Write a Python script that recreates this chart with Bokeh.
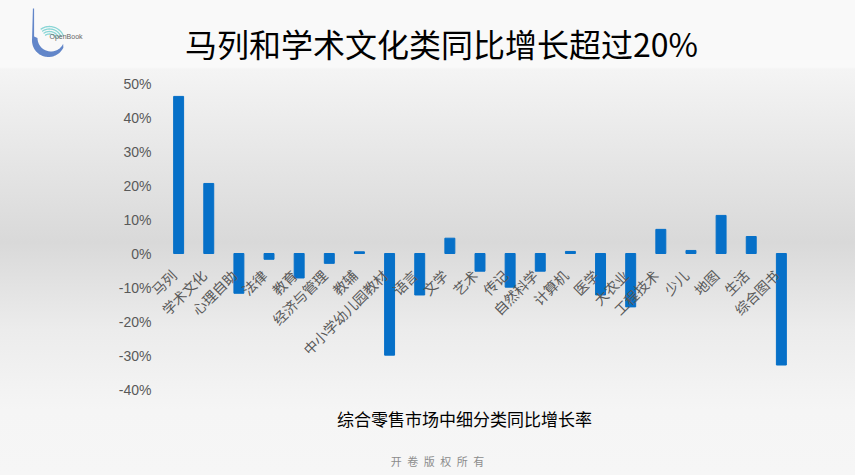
import numpy as np
from math import pi
from bokeh.plotting import figure
from bokeh.layouts import column
from bokeh.models import (ColumnDataSource, FactorRange, Range1d, LabelSet, Label,
                          NumeralTickFormatter, FixedTicker)
from bokeh.core.properties import value
from bokeh.embed import file_html
from bokeh.resources import INLINE

# ---------------- data ----------------
categories = ["马列", "学术文化", "心理自助", "法律", "教育", "经济与管理", "教辅",
              "中小学幼儿园教材", "语言", "文学", "艺术", "传记", "自然科学", "计算机",
              "医学", "大农业", "工程技术", "少儿", "地图", "生活", "综合图书"]
growth = [0.462, 0.206, -0.117, -0.017, -0.072, -0.029, 0.005,
          -0.299, -0.122, 0.045, -0.052, -0.099, -0.052, 0.006,
          -0.122, -0.157, 0.071, 0.009, 0.112, 0.050, -0.328]
y_ticks = [-0.4, -0.3, -0.2, -0.1, 0.0, 0.1, 0.2, 0.3, 0.4, 0.5]
title_text = "马列和学术文化类同比增长超过20%"
x_title = "综合零售市场中细分类同比增长率"
footer_text = "开 卷 版 权 所 有"
logo_text = "OpenBook"

CJK = "Noto Sans CJK SC"
W = 855
HEAD_H, MAIN_H, FOOT_H = 70, 330, 75


def blank(h):
    f = figure(width=W, height=h, x_range=Range1d(0, W), y_range=Range1d(h, 0),
               x_axis_type=None, y_axis_type=None, output_backend="svg",
               toolbar_location=None, min_border=0, frame_align=False)
    f.background_fill_color = None
    f.border_fill_color = None
    f.outline_line_color = None
    f.grid.visible = False
    return f


# ---------------- header ----------------
head = blank(HEAD_H)
head.add_layout(Label(x=441, y=42, text=title_text, text_align="center", text_baseline="middle",
                      text_font=CJK, text_font_size="32px", text_color="#000000"))
# logo (decoration): stem + crescent bowl + teal arcs
th = np.linspace(pi, 2 * pi - 0.45, 48)
ox, oy, orad = 48.0, 40.0, 16.5
ix, iy, irad = 50.5, 37.5, 13.5
lx = [32.4, 31.5] + list(ox + orad * np.cos(th)) + list(ix + irad * np.cos(th[::-1])) + [37.0, 33.6, 33.6]
ly = [8.0, 40.0] + list(oy - orad * np.sin(th)) + list(iy - irad * np.sin(th[::-1])) + [37.5, 36.0, 8.0]
head.patch(lx, ly, fill_color="#5a80c6", fill_alpha=0.95, line_color=None)
for rr in [7.5, 10.0, 12.5, 15.0]:
    tt = np.linspace(0.35, 2.2, 30)
    head.line(49 + rr * np.cos(tt), 41 - rr * np.sin(tt), line_color="#8ad6d6", line_width=1.3)
head.add_layout(Label(x=49, y=36, text=logo_text, text_align="left", text_baseline="middle",
                      text_font="Liberation Sans", text_font_size="7px", text_color="#666666"))

# ---------------- main chart ----------------
L, R, T, B = 140, 36, 13, 11
p = figure(width=W, height=MAIN_H,
           x_range=FactorRange(*categories, range_padding=0.765, range_padding_units="absolute"),
           y_range=Range1d(-0.4, 0.5),
           output_backend="svg", toolbar_location=None, frame_align=False,
           min_border_left=L, min_border_right=R,
           min_border_top=T, min_border_bottom=B)
p.background_fill_color = None
p.border_fill_color = None
p.outline_line_color = None
p.xgrid.visible = False
p.ygrid.visible = False
p.xaxis.visible = False

yax = p.yaxis[0]
yax.ticker = FixedTicker(ticks=y_ticks)
yax.formatter = NumeralTickFormatter(format="0%")
yax.axis_line_color = None
yax.major_tick_line_color = None
yax.minor_tick_line_color = None
yax.major_label_standoff = -17
yax.major_label_text_font = "Liberation Sans"
yax.major_label_text_font_size = "14px"
yax.major_label_text_color = "#595959"

src = ColumnDataSource(dict(cat=categories, val=growth, zero=[0.0] * len(categories)))
p.vbar(x="cat", top="val", bottom=0, width=0.33, color="#0670C8", source=src)

p.add_layout(LabelSet(x="cat", y="zero", text="cat", source=src,
                      angle=pi / 4, text_align="right", text_baseline="middle",
                      x_offset=-5, y_offset=-19,
                      text_font=value(CJK), text_font_size=value("14px"),
                      text_color="#595959"))

# ---------------- footer ----------------
foot = blank(FOOT_H)
foot.add_layout(Label(x=464, y=18, text=x_title, text_align="center", text_baseline="middle",
                      text_font=CJK, text_font_size="17px", text_color="#000000"))
foot.add_layout(Label(x=437, y=60, text=footer_text.replace(" ", "\u2002"),
                      text_align="center", text_baseline="middle",
                      text_font=CJK, text_font_size="11px", text_color="#8c8c8c"))

page = column(head, p, foot, spacing=0)
page.styles = {"background": "linear-gradient(to bottom, #f9f9f9 0px, #f9f9f9 67px, "
                             "#f4f4f4 69px, #d9d9d9 242px, #ececec 330px, #f5f5f5 410px, #f6f6f6 100%)"}

open("out.html", "w").write(file_html(page, INLINE))
